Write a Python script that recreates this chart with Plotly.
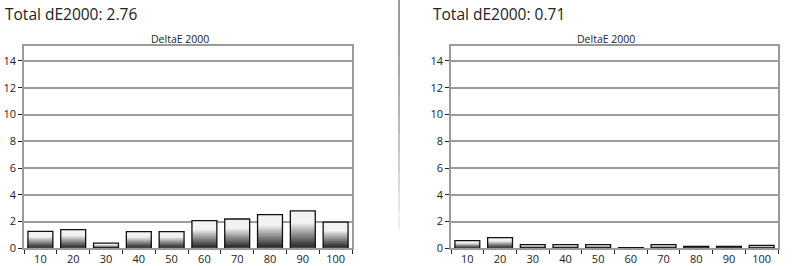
import plotly.graph_objects as go

W, H = 792, 266

categories = ["10", "20", "30", "40", "50", "60", "70", "80", "90", "100"]
left_values = [1.27, 1.40, 0.38, 1.25, 1.25, 2.07, 2.19, 2.52, 2.79, 1.95]
right_values = [0.58, 0.80, 0.28, 0.28, 0.28, 0.05, 0.28, 0.15, 0.15, 0.22]
left_title = "Total dE2000: 2.76"
right_title = "Total dE2000: 0.71"
chart_title = "DeltaE 2000"
y_ticks = [0, 2, 4, 6, 8, 10, 12, 14]

FONT = "Open Sans"
N = 24


def shade(t):
    # t: 0 bottom .. 1 top
    if t < 0.04:
        g = 90
    elif t > 0.68:
        g = 242
    else:
        g = 40 + (t - 0.04) / (0.68 - 0.04) * 200
    g = int(max(0, min(255, g)))
    return f"rgb({g},{g},{g})"


fig = go.Figure()


def add_bars(values, xa, ya):
    # draw from the full bar (lightest top) down to shorter darker ones, each from 0
    for k in range(N, 0, -1):
        frac = k / N
        fig.add_trace(go.Bar(
            x=categories, y=[v * frac for v in values],
            marker=dict(color=shade((k - 0.5) / N), line=dict(width=0)),
            xaxis=xa, yaxis=ya, showlegend=False, hoverinfo="skip",
        ))
    fig.add_trace(go.Bar(
        x=categories, y=values,
        marker=dict(color="rgba(0,0,0,0)", line=dict(color="#111", width=1.3)),
        xaxis=xa, yaxis=ya, showlegend=False,
    ))


add_bars(left_values, "x", "y")
add_bars(right_values, "x2", "y2")


def px(x):
    return x / W


def py(y):
    return 1 - y / H


ydom = [py(248.3), py(46)]
yrange = [0, 15.12]

xcommon = dict(
    type="category", range=[-0.5, 9.5], showgrid=False, tickson="boundaries",
    ticks="outside", ticklen=4, tickcolor="#222", tickwidth=1,
    showline=True, linecolor="#9a9a9a", linewidth=1.5, mirror=True,
    tickfont=dict(family=FONT, size=11, color="#222"), zeroline=False,
    automargin=False,
)
ycommon = dict(
    range=yrange, tickvals=y_ticks, showgrid=True, gridcolor="#9a9a9a", gridwidth=1.5,
    ticks="outside", ticklen=4, tickcolor="#222", tickwidth=1,
    showline=True, linecolor="#9a9a9a", linewidth=1.5, mirror=True,
    tickfont=dict(family=FONT, size=11, color="#222"), zeroline=False,
    automargin=False,
)

fig.update_layout(
    width=W, height=H, margin=dict(l=0, r=0, t=0, b=0),
    paper_bgcolor="white", plot_bgcolor="white",
    barmode="overlay", bargap=0.24,
    xaxis=dict(domain=[px(24), px(352)], anchor="y", **xcommon),
    yaxis=dict(domain=ydom, anchor="x", **ycommon),
    xaxis2=dict(domain=[px(451), px(778)], anchor="y2", **xcommon),
    yaxis2=dict(domain=ydom, anchor="x2", **ycommon),
    annotations=[
        dict(text=left_title, x=px(3), y=py(14), xref="paper", yref="paper",
             xanchor="left", yanchor="middle", showarrow=False,
             font=dict(family=FONT, size=15.5, color="#222")),
        dict(text=right_title, x=px(431), y=py(14), xref="paper", yref="paper",
             xanchor="left", yanchor="middle", showarrow=False,
             font=dict(family=FONT, size=15.5, color="#222")),
        dict(text=chart_title, x=px(180), y=py(39), xref="paper", yref="paper",
             xanchor="center", yanchor="middle", showarrow=False,
             font=dict(family=FONT, size=10.5, color="#222")),
        dict(text=chart_title, x=px(606), y=py(39), xref="paper", yref="paper",
             xanchor="center", yanchor="middle", showarrow=False,
             font=dict(family=FONT, size=10.5, color="#222")),
    ],
)

# fading vertical divider
segs = 12
for i in range(segs):
    y0 = 230 * i / segs
    y1 = 230 * (i + 1) / segs
    g = int(120 + 130 * (i / segs) ** 1.5)
    fig.add_shape(type="line", xref="paper", yref="paper",
                  x0=px(399), x1=px(399), y0=py(y0), y1=py(y1),
                  line=dict(color=f"rgb({g},{g},{g})", width=1.5))

fig.write_html("out.html")
